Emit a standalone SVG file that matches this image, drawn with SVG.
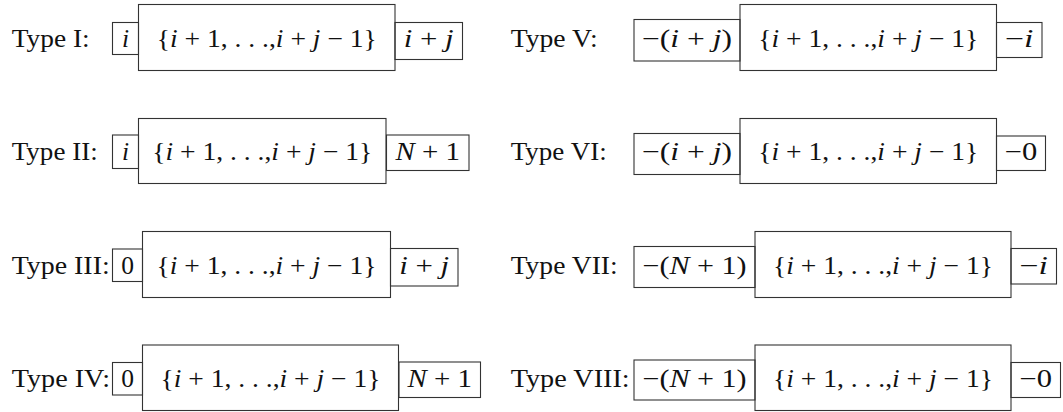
<svg xmlns="http://www.w3.org/2000/svg" width="1063" height="412" viewBox="0 0 1063 412">
<style>
.box{fill:none;stroke:#333;stroke-width:1.1}
text{font-family:"Liberation Serif","Times New Roman",serif;font-size:25.5px;fill:#111}
.m{text-anchor:middle}
.it{font-style:italic}
</style>
<rect width="1063" height="412" fill="#fff"/>
<g id="connectors"/>

<!-- Type I -->
<g id="type1">
<text id="type1-label" x="11.7" y="46.7" textLength="78" lengthAdjust="spacingAndGlyphs">Type I:</text>
<g id="type1-left"><rect class="box" x="112.5" y="22.5" width="26" height="32"/><text class="m it" x="125.5" y="46.7">i</text></g>
<g id="type1-set"><rect class="box" x="138.5" y="4.5" width="256.5" height="66"/><text class="m" x="266.8" y="46.7" textLength="220" lengthAdjust="spacingAndGlyphs">{<tspan class="it">i</tspan> + 1, . . .,<tspan class="it">i</tspan> + <tspan class="it">j</tspan> − 1}</text></g>
<g id="type1-right"><rect class="box" x="395" y="22.5" width="67.5" height="37"/><text class="m" x="428.7" y="46.7" textLength="50" lengthAdjust="spacingAndGlyphs"><tspan class="it">i</tspan> + <tspan class="it">j</tspan></text></g>
</g>

<!-- Type II -->
<g id="type2">
<text id="type2-label" x="11.7" y="160.1" textLength="86" lengthAdjust="spacingAndGlyphs">Type II:</text>
<g id="type2-left"><rect class="box" x="112.5" y="135" width="26" height="33.5"/><text class="m it" x="125.5" y="160.1">i</text></g>
<g id="type2-set"><rect class="box" x="138.5" y="118.5" width="247.5" height="65"/><text class="m" x="262.3" y="160.1" textLength="220" lengthAdjust="spacingAndGlyphs">{<tspan class="it">i</tspan> + 1, . . .,<tspan class="it">i</tspan> + <tspan class="it">j</tspan> − 1}</text></g>
<g id="type2-right"><rect class="box" x="386.5" y="135" width="82.5" height="35.5"/><text class="m" x="427.8" y="160.1" textLength="64.5" lengthAdjust="spacingAndGlyphs"><tspan class="it">N</tspan> + 1</text></g>
</g>

<!-- Type III -->
<g id="type3">
<text id="type3-label" x="11.7" y="273.5" textLength="98" lengthAdjust="spacingAndGlyphs">Type III:</text>
<g id="type3-left"><rect class="box" x="112.5" y="249" width="30" height="32.5"/><text class="m" x="127.5" y="273.5">0</text></g>
<g id="type3-set"><rect class="box" x="142.5" y="231.5" width="248" height="66"/><text class="m" x="266.5" y="273.5" textLength="220" lengthAdjust="spacingAndGlyphs">{<tspan class="it">i</tspan> + 1, . . .,<tspan class="it">i</tspan> + <tspan class="it">j</tspan> − 1}</text></g>
<g id="type3-right"><rect class="box" x="390.5" y="248.5" width="67.5" height="37.5"/><text class="m" x="424.2" y="273.5" textLength="50" lengthAdjust="spacingAndGlyphs"><tspan class="it">i</tspan> + <tspan class="it">j</tspan></text></g>
</g>

<!-- Type IV -->
<g id="type4">
<text id="type4-label" x="11.7" y="386.9" textLength="98.5" lengthAdjust="spacingAndGlyphs">Type IV:</text>
<g id="type4-left"><rect class="box" x="112.5" y="362.5" width="30" height="32.5"/><text class="m" x="127.5" y="386.9">0</text></g>
<g id="type4-set"><rect class="box" x="142.5" y="345" width="256" height="65.5"/><text class="m" x="270.5" y="386.9" textLength="220" lengthAdjust="spacingAndGlyphs">{<tspan class="it">i</tspan> + 1, . . .,<tspan class="it">i</tspan> + <tspan class="it">j</tspan> − 1}</text></g>
<g id="type4-right"><rect class="box" x="399" y="362" width="81.5" height="35.5"/><text class="m" x="439.8" y="386.9" textLength="64.5" lengthAdjust="spacingAndGlyphs"><tspan class="it">N</tspan> + 1</text></g>
</g>

<!-- Type V -->
<g id="type5">
<text id="type5-label" x="510.7" y="46.7" textLength="87" lengthAdjust="spacingAndGlyphs">Type V:</text>
<g id="type5-left"><rect class="box" x="634" y="19.5" width="106" height="41.5"/><text class="m" x="687" y="46.7" textLength="90" lengthAdjust="spacingAndGlyphs">−(<tspan class="it">i</tspan> + <tspan class="it">j</tspan>)</text></g>
<g id="type5-set"><rect class="box" x="740" y="4.5" width="256.5" height="66"/><text class="m" x="868.3" y="46.7" textLength="220" lengthAdjust="spacingAndGlyphs">{<tspan class="it">i</tspan> + 1, . . .,<tspan class="it">i</tspan> + <tspan class="it">j</tspan> − 1}</text></g>
<g id="type5-right"><rect class="box" x="996.5" y="22.5" width="45.5" height="35"/><text class="m" x="1019.3" y="46.7" textLength="28.5" lengthAdjust="spacingAndGlyphs">−<tspan class="it">i</tspan></text></g>
</g>

<!-- Type VI -->
<g id="type6">
<text id="type6-label" x="510.7" y="160.1" textLength="96" lengthAdjust="spacingAndGlyphs">Type VI:</text>
<g id="type6-left"><rect class="box" x="634" y="133.5" width="106" height="41"/><text class="m" x="687" y="160.1" textLength="90" lengthAdjust="spacingAndGlyphs">−(<tspan class="it">i</tspan> + <tspan class="it">j</tspan>)</text></g>
<g id="type6-set"><rect class="box" x="740" y="118.5" width="256.5" height="65"/><text class="m" x="868.3" y="160.1" textLength="220" lengthAdjust="spacingAndGlyphs">{<tspan class="it">i</tspan> + 1, . . .,<tspan class="it">i</tspan> + <tspan class="it">j</tspan> − 1}</text></g>
<g id="type6-right"><rect class="box" x="996.5" y="136" width="49" height="34.5"/><text class="m" x="1021" y="160.1" textLength="32.5" lengthAdjust="spacingAndGlyphs">−0</text></g>
</g>

<!-- Type VII -->
<g id="type7">
<text id="type7-label" x="510.7" y="273.5" textLength="107" lengthAdjust="spacingAndGlyphs">Type VII:</text>
<g id="type7-left"><rect class="box" x="634" y="246.5" width="121" height="41"/><text class="m" x="694.5" y="273.5" textLength="104" lengthAdjust="spacingAndGlyphs">−(<tspan class="it">N</tspan> + 1)</text></g>
<g id="type7-set"><rect class="box" x="755" y="231.5" width="256" height="66"/><text class="m" x="883" y="273.5" textLength="220" lengthAdjust="spacingAndGlyphs">{<tspan class="it">i</tspan> + 1, . . .,<tspan class="it">i</tspan> + <tspan class="it">j</tspan> − 1}</text></g>
<g id="type7-right"><rect class="box" x="1011" y="248.5" width="45.5" height="35.5"/><text class="m" x="1033.8" y="273.5" textLength="28.5" lengthAdjust="spacingAndGlyphs">−<tspan class="it">i</tspan></text></g>
</g>

<!-- Type VIII -->
<g id="type8">
<text id="type8-label" x="510.7" y="386.9" textLength="119" lengthAdjust="spacingAndGlyphs">Type VIII:</text>
<g id="type8-left"><rect class="box" x="634" y="360" width="121" height="40"/><text class="m" x="694.5" y="386.9" textLength="104" lengthAdjust="spacingAndGlyphs">−(<tspan class="it">N</tspan> + 1)</text></g>
<g id="type8-set"><rect class="box" x="755" y="345" width="256" height="65.5"/><text class="m" x="883" y="386.9" textLength="220" lengthAdjust="spacingAndGlyphs">{<tspan class="it">i</tspan> + 1, . . .,<tspan class="it">i</tspan> + <tspan class="it">j</tspan> − 1}</text></g>
<g id="type8-right"><rect class="box" x="1011" y="362.5" width="49.5" height="35"/><text class="m" x="1035.8" y="386.9" textLength="32.5" lengthAdjust="spacingAndGlyphs">−0</text></g>
</g>
</svg>
